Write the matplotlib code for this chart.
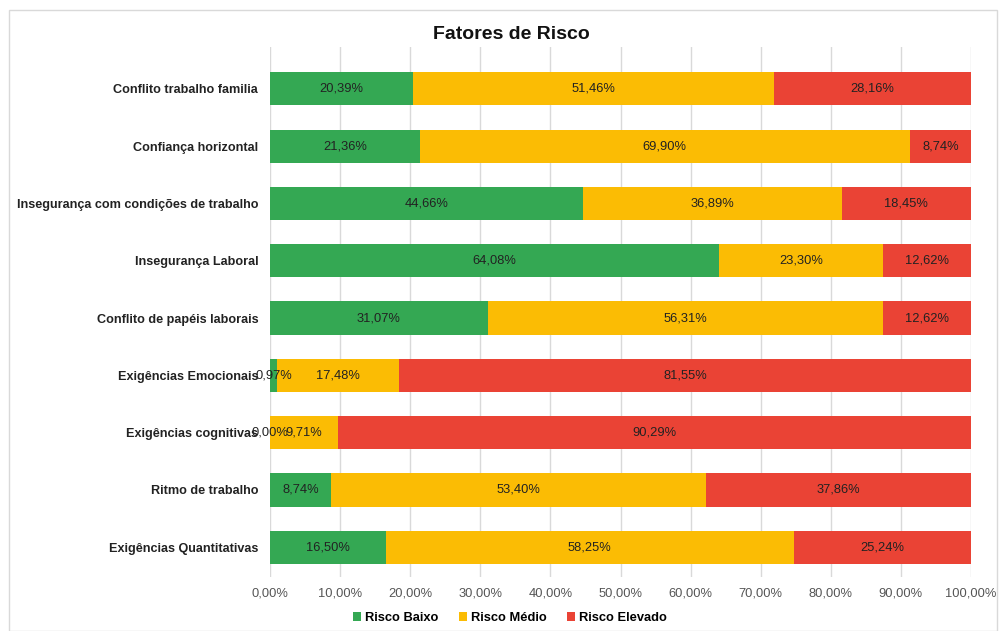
import numpy as np
import matplotlib
matplotlib.use("Agg")
import matplotlib.pyplot as plt
from matplotlib.patches import Rectangle

plt.rcParams['font.family'] = ['Liberation Sans', 'DejaVu Sans']

# data, top to bottom as in the chart
categorias = ["Conflito trabalho familia", "Confiança horizontal",
              "Insegurança com condições de trabalho", "Insegurança Laboral",
              "Conflito de papéis laborais", "Exigências Emocionais",
              "Exigências cognitivas", "Ritmo de trabalho",
              "Exigências Quantitativas"]
risco_baixo = [20.39, 21.36, 44.66, 64.08, 31.07, 0.97, 0.00, 8.74, 16.50]
risco_medio = [51.46, 69.90, 36.89, 23.30, 56.31, 17.48, 9.71, 53.40, 58.25]
risco_elevado = [28.16, 8.74, 18.45, 12.62, 12.62, 81.55, 90.29, 37.86, 25.24]
series = ["Risco Baixo", "Risco Médio", "Risco Elevado"]
cores = ["#34A853", "#FBBC04", "#EA4335"]

fig = plt.figure(figsize=(10, 6.31), dpi=100)
ax = fig.add_axes([0.27, 1 - 577/631, 0.701, (577 - 47)/631])

# light frame around the whole chart
fig.patches.append(Rectangle((0.009, 0.0), 0.988, 0.984, transform=fig.transFigure,
                             fill=False, edgecolor="#d9d9d9", lw=1))

y = np.arange(len(categorias))
left = np.zeros(len(categorias))
for nome, vals, cor in zip(series, [risco_baixo, risco_medio, risco_elevado], cores):
    vals = np.array(vals)
    ax.barh(y, vals, left=left, height=0.58, color=cor, label=nome, zorder=2)
    for yi, l, v in zip(y, left, vals):
        txt = f"{v:.2f}%".replace(".", ",")
        ax.text(l + v / 2, yi, txt, ha="center", va="center", fontsize=9.3,
                color="#222222", zorder=3)
    left += vals

ax.set_xlim(0, 100)
ax.set_ylim(8.52, -0.73)
ax.set_yticks(y)
ax.set_yticklabels(categorias, fontsize=9.1, fontweight="bold", color="#222222")
ax.set_xticks(np.arange(0, 101, 10))
ax.set_xticklabels([f"{t:.2f}%".replace(".", ",") for t in np.arange(0, 101, 10)],
                   fontsize=9.3, color="#555555")
ax.tick_params(axis="x", length=0, pad=7.5)
ax.tick_params(axis="y", length=0, pad=8.5)
ax.xaxis.grid(True, color="#d9d9d9", lw=1, zorder=0)
for s in ax.spines.values():
    s.set_visible(False)

fig.text(0.511, 0.945, "Fatores de Risco", ha="center", va="center",
         fontsize=14, fontweight="bold", color="#111111")

fig.legend(loc="center", bbox_to_anchor=(0.51, 1 - 618/631), ncol=3, frameon=False,
           handlelength=0.6, handleheight=0.6, handletextpad=0.3,
           columnspacing=1.6, prop={"weight": "bold", "size": 9.3})

fig.savefig("out.png", dpi=100)
